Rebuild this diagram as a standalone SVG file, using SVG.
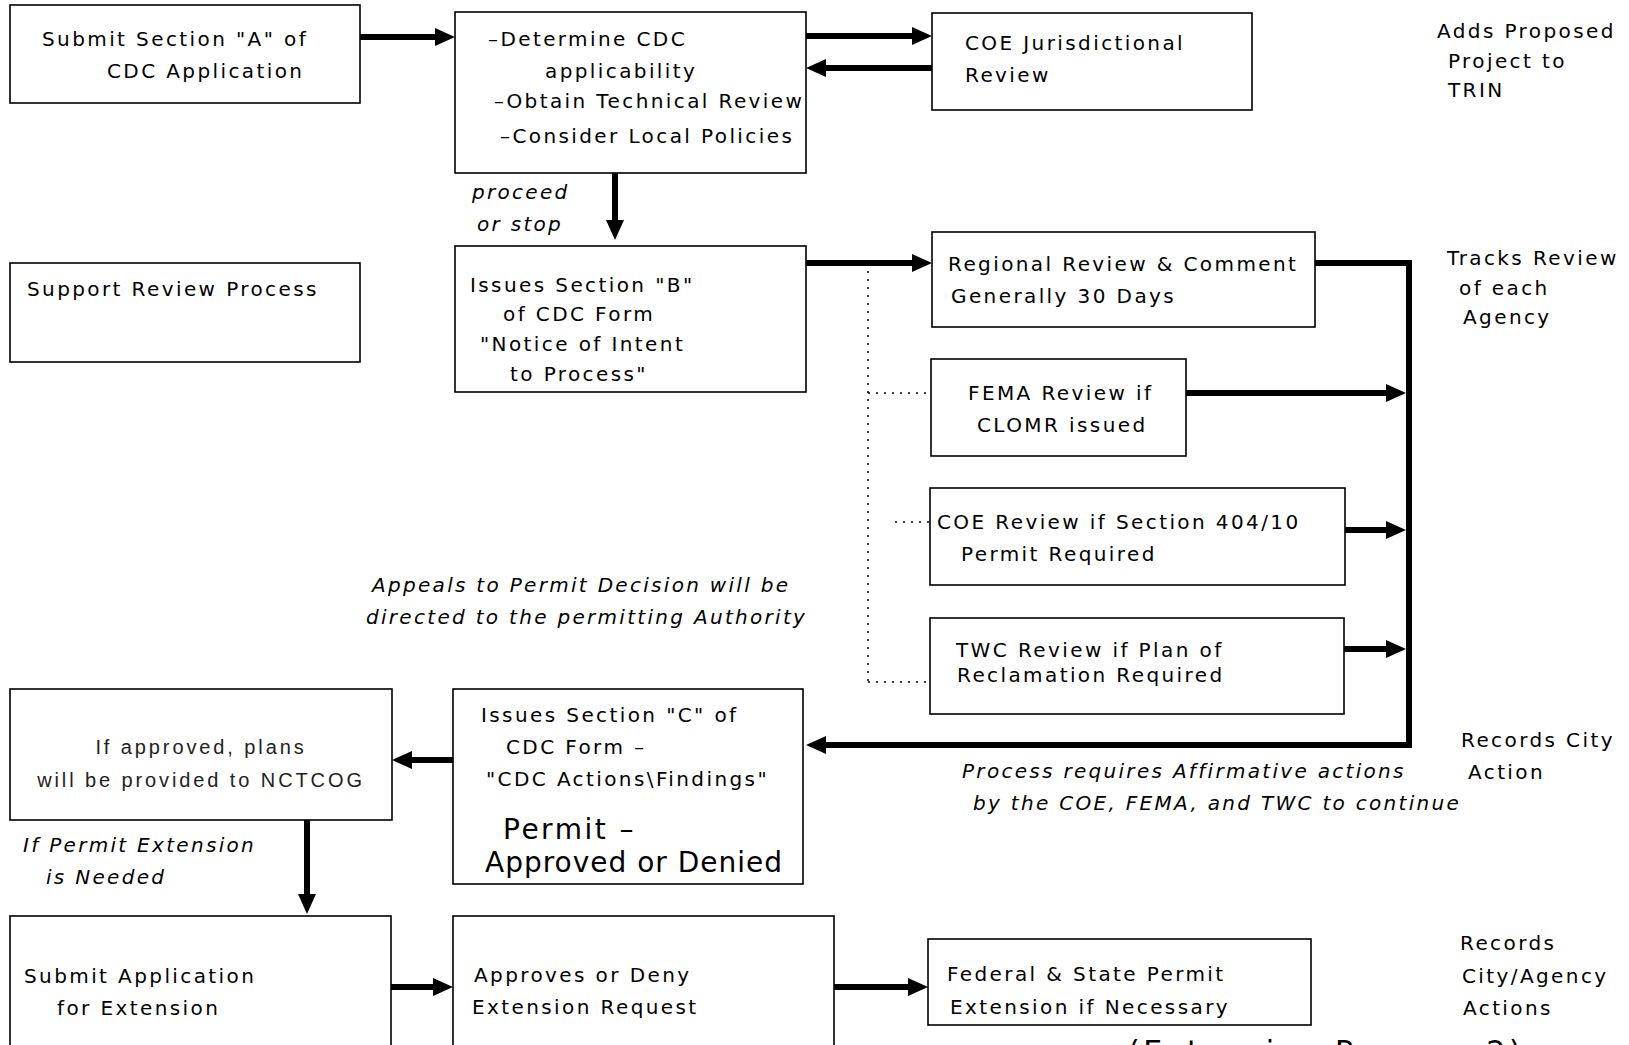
<svg xmlns="http://www.w3.org/2000/svg" width="1629" height="1045" viewBox="0 0 1629 1045">
<style>
.box{fill:#fff;stroke:#000;stroke-width:1.6}
.t{font-family:"DejaVu Sans",sans-serif;font-size:20px;letter-spacing:2.4px;fill:#000}
.i{font-family:"DejaVu Sans",sans-serif;font-size:20px;font-style:italic;letter-spacing:2.3px;fill:#000}
.lt{font-family:"Liberation Sans",sans-serif;font-size:20px;letter-spacing:2.9px;fill:#222}
.big{font-family:"DejaVu Sans",sans-serif;font-size:28px;letter-spacing:1px;fill:#000}
.thick{fill:none;stroke:#000;stroke-width:6}
.dot{fill:none;stroke:#000;stroke-width:1.5;stroke-dasharray:2 6}
</style>
<defs>
<marker id="ah" viewBox="0 0 20 18" refX="2" refY="9" markerWidth="20" markerHeight="18" markerUnits="userSpaceOnUse" orient="auto">
<path d="M0,0 L20,9 L0,18 z" fill="#000"/>
</marker>
</defs>
<rect width="1629" height="1045" fill="#fff"/>
<g id="connectors">
<path class="thick" d="M360,37 H437" marker-end="url(#ah)"/>
<path class="thick" d="M806,36 H914" marker-end="url(#ah)"/>
<path class="thick" d="M932,68 H824" marker-end="url(#ah)"/>
<path class="thick" d="M615,173 V222" marker-end="url(#ah)"/>
<path class="thick" d="M806,263 H914" marker-end="url(#ah)"/>
<path class="thick" d="M1315,263 H1409 V745 H824" marker-end="url(#ah)"/>
<path class="thick" d="M1186,393 H1388" marker-end="url(#ah)"/>
<path class="thick" d="M1345,530 H1388" marker-end="url(#ah)"/>
<path class="thick" d="M1344,649 H1388" marker-end="url(#ah)"/>
<path class="dot" d="M868,263 V682 M868,393 H931 M895,522 H930 M868,682 H930"/>
<path class="thick" d="M453,760 H410" marker-end="url(#ah)"/>
<path class="thick" d="M307,820 V896" marker-end="url(#ah)"/>
<path class="thick" d="M391,987 H435" marker-end="url(#ah)"/>
<path class="thick" d="M834,987 H910" marker-end="url(#ah)"/>
</g>
<g id="submitA">
<rect class="box" x="10" y="5" width="350" height="98"/>
<text class="t" x="42" y="46">Submit Section "A" of</text>
<text class="t" x="107" y="78">CDC Application</text>
</g>
<g id="determine">
<rect class="box" x="455" y="12" width="351" height="161"/>
<text class="t" x="488" y="46">–Determine CDC</text>
<text class="t" x="545" y="78">applicability</text>
<text class="t" x="494" y="108">–Obtain Technical Review</text>
<text class="t" x="500" y="143">–Consider Local Policies</text>
</g>
<g id="coeJur">
<rect class="box" x="932" y="13" width="320" height="97"/>
<text class="t" x="965" y="50">COE Jurisdictional</text>
<text class="t" x="965" y="82">Review</text>
</g>
<g id="adds">
<text class="t" x="1437" y="38">Adds Proposed</text>
<text class="t" x="1448" y="68">Project to</text>
<text class="t" x="1448" y="97">TRIN</text>
</g>
<g id="proceed">
<text class="i" x="472" y="199">proceed</text>
<text class="i" x="477" y="231">or stop</text>
</g>
<g id="support">
<rect class="box" x="10" y="263" width="350" height="99"/>
<text class="t" x="27" y="296">Support Review Process</text>
</g>
<g id="sectionB">
<rect class="box" x="455" y="246" width="351" height="146"/>
<text class="t" x="470" y="292">Issues Section "B"</text>
<text class="t" x="503" y="321">of CDC Form</text>
<text class="t" x="480" y="351">"Notice of Intent</text>
<text class="t" x="510" y="381">to Process"</text>
</g>
<g id="regional">
<rect class="box" x="932" y="232" width="383" height="95"/>
<text class="t" x="948" y="271">Regional Review &amp; Comment</text>
<text class="t" x="951" y="303">Generally 30 Days</text>
</g>
<g id="tracks">
<text class="t" x="1447" y="265">Tracks Review</text>
<text class="t" x="1459" y="295">of each</text>
<text class="t" x="1463" y="324">Agency</text>
</g>
<g id="fema">
<rect class="box" x="931" y="359" width="255" height="97"/>
<text class="t" x="968" y="400">FEMA Review if</text>
<text class="t" x="977" y="432">CLOMR issued</text>
</g>
<g id="coe404">
<rect class="box" x="930" y="488" width="415" height="97"/>
<text class="t" x="937" y="529">COE Review if Section 404/10</text>
<text class="t" x="961" y="561">Permit Required</text>
</g>
<g id="twc">
<rect class="box" x="930" y="618" width="414" height="96"/>
<text class="t" x="956" y="657">TWC Review if Plan of</text>
<text class="t" x="957" y="682">Reclamation Required</text>
</g>
<g id="appeals">
<text class="i" x="372" y="592">Appeals to Permit Decision will be</text>
<text class="i" x="366" y="624">directed to the permitting Authority</text>
</g>
<g id="approvedPlans">
<rect class="box" x="10" y="689" width="382" height="131"/>
<text class="lt" x="201" y="754" text-anchor="middle">If approved, plans</text>
<text class="lt" x="201" y="787" text-anchor="middle">will be provided to NCTCOG</text>
</g>
<g id="sectionC">
<rect class="box" x="453" y="689" width="350" height="195"/>
<text class="t" x="481" y="722">Issues Section "C" of</text>
<text class="t" x="506" y="754">CDC Form –</text>
<text class="t" x="486" y="786">"CDC Actions\Findings"</text>
<text class="big" x="503" y="839" style="letter-spacing:2.5px">Permit –</text>
<text class="big" x="485" y="872">Approved or Denied</text>
</g>
<g id="recordsCity">
<text class="t" x="1461" y="747">Records City</text>
<text class="t" x="1468" y="779">Action</text>
</g>
<g id="process">
<text class="i" x="962" y="778">Process requires Affirmative actions</text>
<text class="i" x="973" y="810">by the COE, FEMA, and TWC to continue</text>
</g>
<g id="ifExt">
<text class="i" x="23" y="852">If Permit Extension</text>
<text class="i" x="46" y="884">is Needed</text>
</g>
<g id="submitExt">
<rect class="box" x="10" y="916" width="381" height="140"/>
<text class="t" x="24" y="983">Submit Application</text>
<text class="t" x="57" y="1015">for Extension</text>
</g>
<g id="approves">
<rect class="box" x="453" y="916" width="381" height="140"/>
<text class="t" x="474" y="982">Approves or Deny</text>
<text class="t" x="472" y="1014">Extension Request</text>
</g>
<g id="federal">
<rect class="box" x="928" y="939" width="383" height="86"/>
<text class="t" x="947" y="981">Federal &amp; State Permit</text>
<text class="t" x="950" y="1014">Extension if Necessary</text>
</g>
<g id="recordsAgency">
<text class="t" x="1460" y="950">Records</text>
<text class="t" x="1462" y="983">City/Agency</text>
<text class="t" x="1463" y="1015">Actions</text>
</g>
<g id="footer">
<text class="big" x="1128" y="1062" style="font-size:30px;letter-spacing:3.5px">(Extension Process 2)</text>
</g>
</svg>
